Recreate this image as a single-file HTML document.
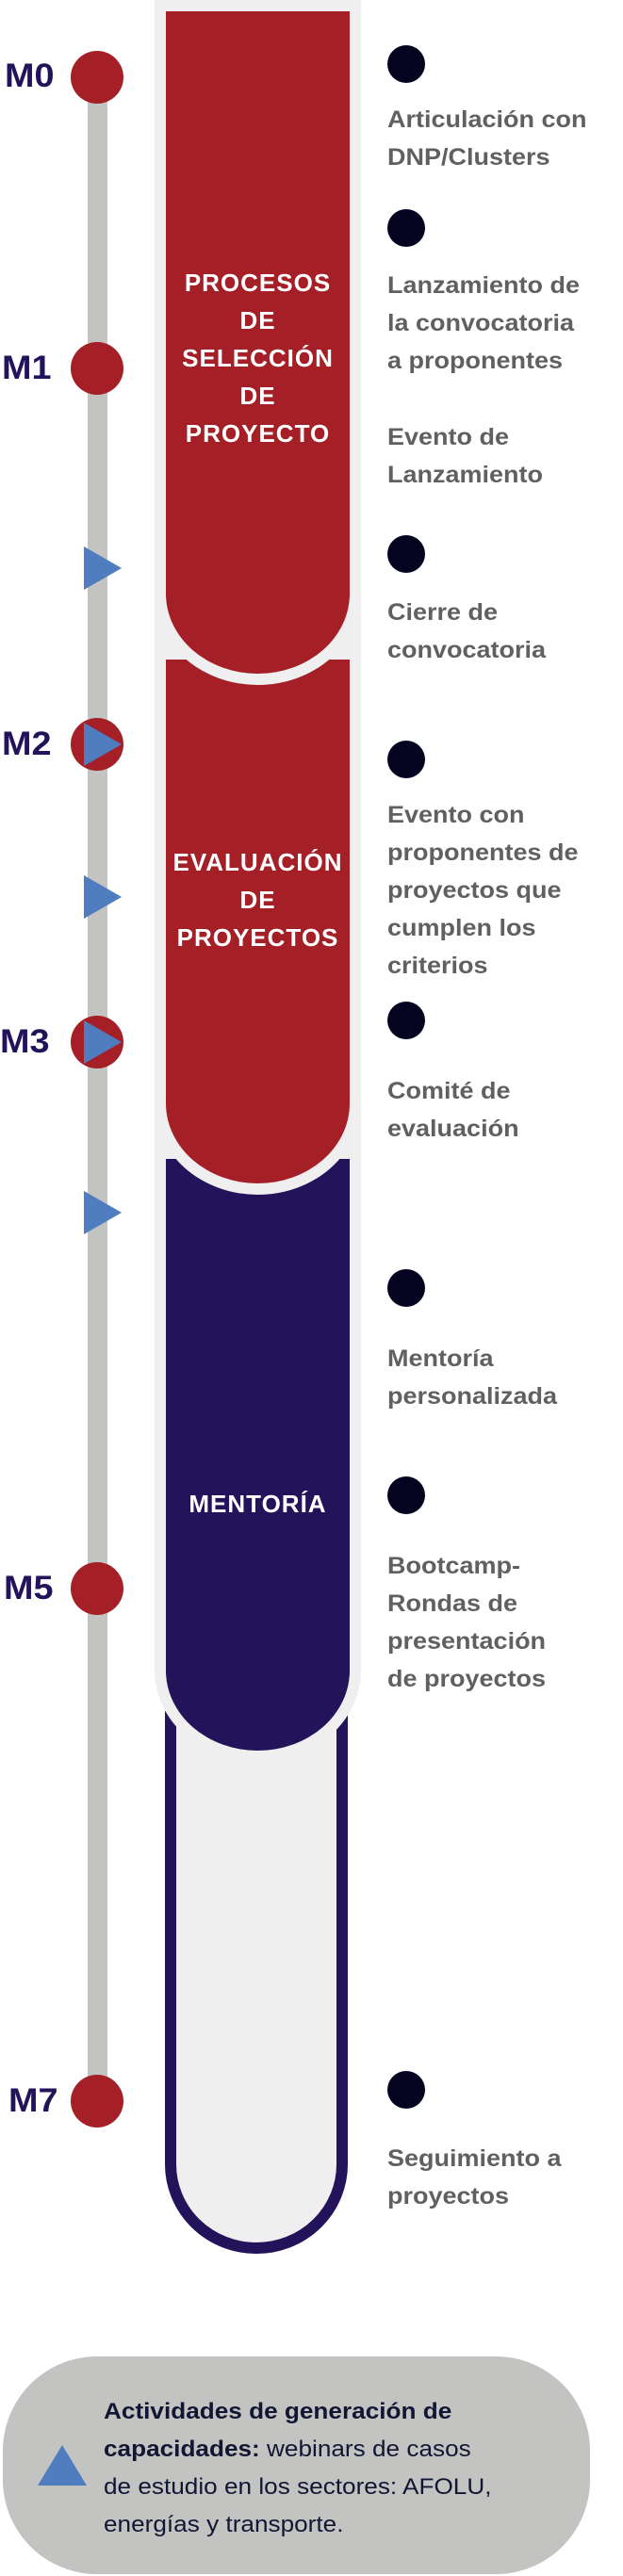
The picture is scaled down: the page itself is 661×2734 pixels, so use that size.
<!DOCTYPE html>
<html><head><meta charset="utf-8"><style>
html,body{margin:0;padding:0;background:#fff;}
body{width:661px;height:2734px;position:relative;overflow:hidden;font-family:"Liberation Sans",Arial,sans-serif;}
svg{position:absolute;left:0;top:0;}
.t{position:absolute;left:411px;color:#606060;font-weight:bold;font-size:25px;line-height:40px;white-space:nowrap;transform:scaleX(1.08);transform-origin:0 0;}
.m{position:absolute;color:#22135a;font-weight:bold;font-size:35px;line-height:40px;transform:scaleX(1.08);transform-origin:0 0;}
.c{position:absolute;left:176px;width:195px;text-align:center;color:#fff;font-weight:bold;font-size:26px;line-height:40px;letter-spacing:1px;}
.b{position:absolute;left:110px;top:2540px;color:#111633;font-size:24px;line-height:40px;white-space:nowrap;transform:scaleX(1.09);transform-origin:0 0;}
</style></head><body>
<svg width="661" height="2734" viewBox="0 0 661 2734">
<path d="M181,1700 L363,1700 L363,2297 A91 89 0 0 1 181,2297 Z" fill="#efefef" stroke="#23135a" stroke-width="12"/>
<path d="M164,0 L383,0 L383,1773 A109.5 97 0 0 1 164,1773 Z" fill="#efefef"/>
<path d="M176,1230 L371,1230 L371,1773 A97.5 85 0 0 1 176,1773 Z" fill="#23135a"/>
<path d="M164,690 L383,690 L383,1171 A109.5 97 0 0 1 164,1171 Z" fill="#efefef"/>
<path d="M176,700 L371,700 L371,1171 A97.5 85 0 0 1 176,1171 Z" fill="#a51f27"/>
<path d="M164,0 L383,0 L383,630 A109.5 97 0 0 1 164,630 Z" fill="#efefef"/>
<path d="M176,12 L371,12 L371,630 A97.5 85 0 0 1 176,630 Z" fill="#a51f27"/>
<rect x="93" y="82" width="21" height="2148" fill="#c3c4c1"/>
<g fill="#a51f27">
<circle cx="103" cy="82" r="28"/><circle cx="103" cy="391" r="28"/><circle cx="103" cy="790" r="28"/>
<circle cx="103" cy="1106" r="28"/><circle cx="103" cy="1686" r="28"/><circle cx="103" cy="2230" r="28"/>
</g>
<g fill="#4f7dc0">
<polygon points="89,580 129,603 89,626"/><polygon points="89,767 129,790 89,813"/>
<polygon points="89,929 129,952 89,975"/><polygon points="89,1083 129,1106 89,1129"/>
<polygon points="89,1264 129,1287 89,1310"/>
</g>
<g fill="#040421">
<ellipse cx="431" cy="68" rx="20" ry="20"/><ellipse cx="431" cy="242" rx="20" ry="20"/>
<ellipse cx="431" cy="588" rx="20" ry="20"/><ellipse cx="431" cy="806" rx="20" ry="20"/>
<ellipse cx="431" cy="1083" rx="20" ry="20"/><ellipse cx="431" cy="1367" rx="20" ry="20"/>
<ellipse cx="431" cy="1587" rx="20" ry="20"/><ellipse cx="431" cy="2218" rx="20" ry="20"/>
</g>
<rect x="3" y="2501" width="623" height="231" rx="100" ry="100" fill="#c3c4c1"/>
<polygon points="40,2638 66,2595 92,2638" fill="#4f7dc0"/>
</svg>

<div class="m" style="left:5px;top:61px">M0</div>
<div class="m" style="left:2px;top:371px">M1</div>
<div class="m" style="left:2px;top:770px">M2</div>
<div class="m" style="left:0px;top:1086px">M3</div>
<div class="m" style="left:4px;top:1666px">M5</div>
<div class="m" style="left:9px;top:2210px">M7</div>

<div class="c" style="top:280px">PROCESOS<br>DE<br>SELECCIÓN<br>DE<br>PROYECTO</div>
<div class="c" style="top:895px">EVALUACIÓN<br>DE<br>PROYECTOS</div>
<div class="c" style="top:1576px">MENTORÍA</div>

<div class="t" style="top:107px">Articulación con<br>DNP/Clusters</div>
<div class="t" style="top:283px">Lanzamiento de<br>la convocatoria<br>a proponentes</div>
<div class="t" style="top:444px">Evento de<br>Lanzamiento</div>
<div class="t" style="top:630px">Cierre de<br>convocatoria</div>
<div class="t" style="top:845px">Evento con<br>proponentes de<br>proyectos que<br>cumplen los<br>criterios</div>
<div class="t" style="top:1138px">Comité de<br>evaluación</div>
<div class="t" style="top:1422px">Mentoría<br>personalizada</div>
<div class="t" style="top:1642px">Bootcamp-<br>Rondas de<br>presentación<br>de proyectos</div>
<div class="t" style="top:2271px">Seguimiento a<br>proyectos</div>

<div class="b"><b>Actividades de generación de<br>capacidades:</b> webinars de casos<br>de estudio en los sectores: AFOLU,<br>energías y transporte.</div>
</body></html>
